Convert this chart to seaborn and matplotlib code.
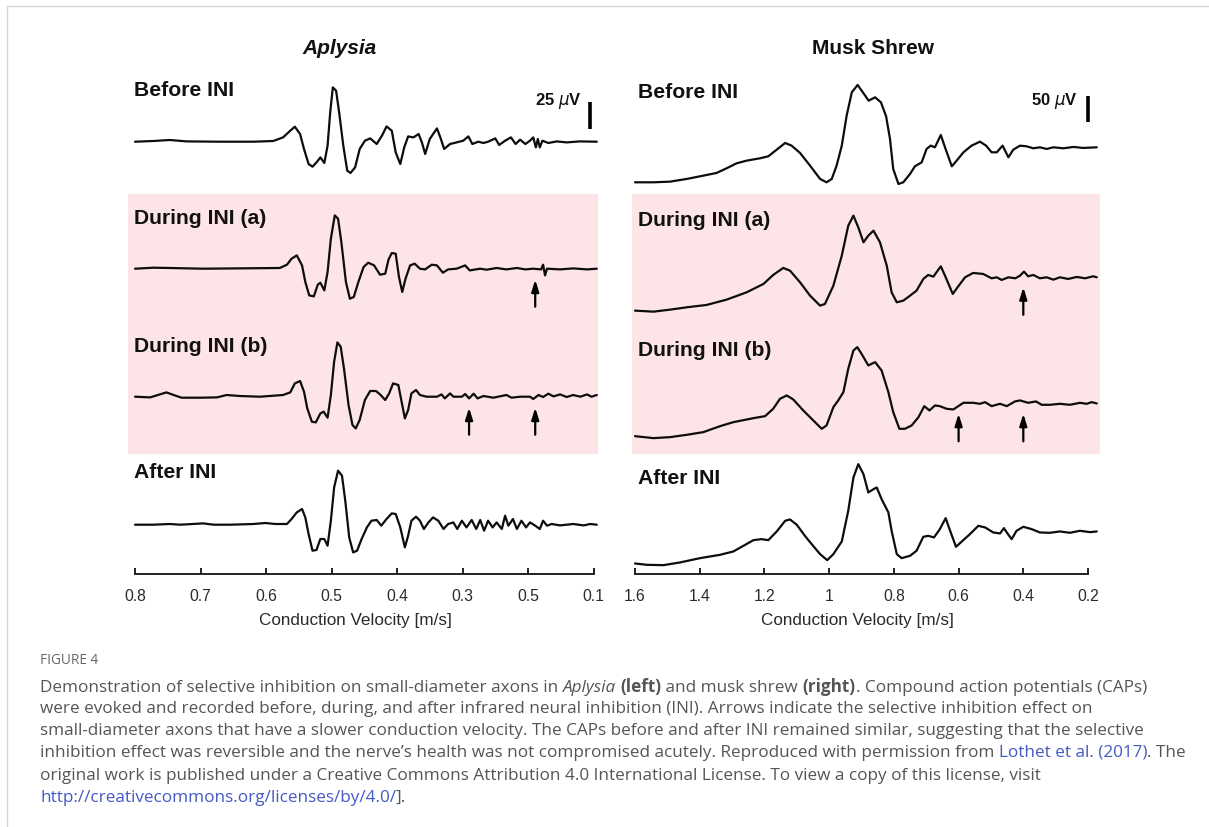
import matplotlib
matplotlib.use("Agg")
import matplotlib.pyplot as plt
from matplotlib.lines import Line2D
from matplotlib.offsetbox import TextArea, HPacker, AnnotationBbox
import seaborn as sns
import pandas as pd

# ---- data (x: conduction velocity m/s, y: microvolts) ----
aplysia_ticks = [0.8, 0.7, 0.6, 0.5, 0.4, 0.3, 0.2, 0.1]
aplysia_ticklabels = ['0.8', '0.7', '0.6', '0.5', '0.4', '0.3', '0.5', '0.1']
shrew_ticks = [1.6, 1.4, 1.2, 1.0, 0.8, 0.6, 0.4, 0.2]
shrew_ticklabels = ['1.6', '1.4', '1.2', '1', '0.8', '0.6', '0.4', '0.2']
trace_names = ['Before INI', 'During INI (a)', 'During INI (b)', 'After INI']

aplysia_before_v = [0.800, 0.772, 0.747, 0.721, 0.670, 0.619, 0.589, 0.574, 0.563, 0.556, 0.548, 0.542,
                    0.535, 0.529, 0.522, 0.517, 0.511, 0.506, 0.502, 0.498, 0.493, 0.488, 0.482, 0.476,
                    0.471, 0.464, 0.457, 0.449, 0.441, 0.431, 0.423, 0.416, 0.408, 0.402, 0.395, 0.389,
                    0.383, 0.375, 0.367, 0.362, 0.357, 0.350, 0.339, 0.333, 0.328, 0.319, 0.309, 0.299,
                    0.291, 0.285, 0.276, 0.268, 0.261, 0.250, 0.244, 0.235, 0.226, 0.219, 0.212, 0.204,
                    0.197, 0.192, 0.188, 0.185, 0.182, 0.178, 0.169, 0.156, 0.141, 0.121, 0.095]
aplysia_before_uv = [0, 0.7, 1.7, 0.3, 0, 0, 0.7, 4.3, 11, 15, 7.7, -7.3,
                     -22.3, -25, -20, -15.7, -21.3, -4, 29.3, 54.3, 51, 27.7, -4, -29,
                     -31.3, -25.7, -7.3, 1, 3.3, -2.3, 6, 15.3, 11, -10.7, -22.3, -5.7,
                     5.3, 4.3, 7.7, -0.7, -12.3, 2.7, 13.3, 2.7, -7.3, -2.3, -0.7, 1,
                     5.3, -2.3, 0, -1.3, 0, 3.3, -3.3, 1, 4.3, -2.3, 2, -2.3,
                     1, 4.3, -5.7, 2.7, -5.7, 1, -1.3, 0.3, -0.7, 0.3, 0]

aplysia_during_a_v = [0.800, 0.772, 0.747, 0.696, 0.645, 0.579, 0.568, 0.561, 0.553, 0.545, 0.540, 0.534,
                      0.527, 0.521, 0.517, 0.511, 0.506, 0.501, 0.495, 0.490, 0.485, 0.478, 0.472, 0.466,
                      0.459, 0.451, 0.444, 0.435, 0.426, 0.418, 0.413, 0.408, 0.402, 0.397, 0.392, 0.387,
                      0.380, 0.373, 0.365, 0.357, 0.347, 0.339, 0.330, 0.322, 0.309, 0.296, 0.289, 0.273,
                      0.263, 0.248, 0.233, 0.217, 0.204, 0.192, 0.180, 0.177, 0.174, 0.171, 0.151, 0.131,
                      0.110, 0.095]
aplysia_during_a_uv = [0, 1, 0.7, 0, 0.3, 0.7, 4, 10, 13.3, 3.3, -13.3, -26.7,
                       -27.7, -16, -14, -21.7, -3.3, 30, 53.3, 50, 26.7, -13.3, -30, -28.3,
                       -13.3, 1.7, 6, 3.3, -6, -5, 9, 15.7, 15, -8.3, -23.3, -10,
                       3.3, 5, 0, -0.7, 4, 3.3, -4, -0.7, 0, 3.3, -1.7, 0,
                       -1, 0.7, -0.7, 0.7, -0.7, 0, -0.7, 4, -6.7, 0, -0.7, 0.3,
                       -0.7, 0]

aplysia_during_b_v = [0.800, 0.777, 0.762, 0.752, 0.741, 0.729, 0.701, 0.675, 0.660, 0.640, 0.609, 0.574,
                      0.563, 0.556, 0.548, 0.542, 0.537, 0.530, 0.524, 0.517, 0.512, 0.506, 0.501, 0.496,
                      0.491, 0.486, 0.481, 0.474, 0.468, 0.463, 0.457, 0.449, 0.441, 0.432, 0.425, 0.418,
                      0.412, 0.406, 0.398, 0.393, 0.388, 0.383, 0.378, 0.371, 0.365, 0.355, 0.339, 0.332,
                      0.327, 0.319, 0.314, 0.301, 0.296, 0.290, 0.283, 0.277, 0.268, 0.253, 0.233, 0.225,
                      0.212, 0.197, 0.192, 0.184, 0.177, 0.169, 0.161, 0.151, 0.141, 0.131, 0.120, 0.110,
                      0.103, 0.095]
aplysia_during_b_uv = [0, -0.7, 2.3, 4.3, 1.7, -1, -1, -0.7, 1.7, 0.7, 0, 1.7,
                       4.3, 13.3, 15.7, 5, -11.7, -25, -25.7, -16.7, -15, -21, 1.7, 35,
                       54.3, 50, 28.3, -8.3, -28.3, -31.7, -23.3, -3.3, 5.7, 5.7, 1.7, -3.3,
                       3.3, 13.3, 11.7, -5, -21.7, -13.3, 3.3, 6.7, 1.7, 0, 0, 2.3,
                       -1.7, 3.3, 0, 0, 2.7, -1.7, 3, -1.7, 0.7, -1, 1.7, -1,
                       0, 0, -2.3, 1.7, -0.3, 3, 0.3, 2.3, -0.3, 1.7, 0, 2.3,
                       0, 1.7]

aplysia_after_v = [0.800, 0.772, 0.747, 0.731, 0.696, 0.680, 0.655, 0.619, 0.601, 0.586, 0.568, 0.561,
                   0.553, 0.545, 0.540, 0.535, 0.529, 0.523, 0.517, 0.511, 0.506, 0.501, 0.496, 0.490,
                   0.484, 0.479, 0.473, 0.467, 0.461, 0.454, 0.446, 0.439, 0.431, 0.424, 0.416, 0.408,
                   0.402, 0.395, 0.388, 0.383, 0.378, 0.371, 0.365, 0.359, 0.352, 0.345, 0.337, 0.329,
                   0.322, 0.314, 0.308, 0.301, 0.294, 0.286, 0.279, 0.273, 0.267, 0.261, 0.254, 0.248,
                   0.240, 0.235, 0.230, 0.223, 0.217, 0.210, 0.203, 0.197, 0.189, 0.182, 0.177, 0.171,
                   0.164, 0.151, 0.131, 0.115, 0.105, 0.095]
aplysia_after_uv = [0, 0, 0.7, 0, 1.3, 0, 0, 0.7, 1.7, 0.7, 0.7, 5.7,
                    12.3, 15.7, 7.3, -9.3, -26, -25.3, -14.3, -14.3, -21, 4, 37.3, 54,
                    49, 24, -12.7, -27.7, -26, -14.3, -2.7, 4, 4.7, -1, 5.7, 11.3,
                    10.7, -2.7, -22.7, -11, 4, 8, 4, -4.3, 2.3, 7.3, 4, -4.3,
                    0.7, 2.3, -4.3, 4, -2.7, 4.7, -4.3, 4.7, -6, 4, -2.7, 2.3,
                    -4.3, 9, -1, 5.7, -4.3, 4, -2.7, 2.3, -1, -4.3, 4, -1,
                    0.7, -0.7, 0.7, -0.7, 0.7, 0]

shrew_before_v = [1.600, 1.543, 1.492, 1.440, 1.389, 1.348, 1.317, 1.286, 1.255, 1.214, 1.188, 1.162,
                  1.136, 1.116, 1.090, 1.059, 1.028, 1.008, 0.992, 0.977, 0.961, 0.946, 0.930, 0.912,
                  0.896, 0.878, 0.858, 0.840, 0.824, 0.812, 0.802, 0.786, 0.771, 0.750, 0.735, 0.714,
                  0.699, 0.686, 0.673, 0.655, 0.642, 0.621, 0.606, 0.585, 0.560, 0.534, 0.515, 0.498,
                  0.482, 0.464, 0.446, 0.431, 0.410, 0.390, 0.369, 0.349, 0.328, 0.307, 0.276, 0.245,
                  0.215, 0.173]
shrew_before_uv = [-70, -70, -68.7, -63.3, -56.7, -51.3, -42, -32, -26.7, -22, -18, -4.7,
                   8.7, 3.3, -11.3, -36.7, -63.3, -70, -63.3, -36.7, 3.3, 63.3, 110, 124.7,
                   110, 93.3, 100, 90, 62, 16.7, -43.3, -73.3, -70, -53.3, -38, -30,
                   -3.3, 3.3, 0, 24.7, 0, -38, -26.7, -10, 3.3, 11.3, 3.3, -10,
                   -10, 3.3, -20, -4.7, 3.3, 2, -2, 0, -3.3, 0, -2, 0.7,
                   -1.3, 0]

shrew_during_a_v = [1.600, 1.543, 1.492, 1.440, 1.379, 1.317, 1.255, 1.203, 1.173, 1.142, 1.121, 1.090,
                    1.059, 1.028, 1.013, 0.987, 0.961, 0.941, 0.925, 0.910, 0.894, 0.879, 0.863, 0.843,
                    0.822, 0.807, 0.791, 0.771, 0.750, 0.730, 0.709, 0.694, 0.678, 0.655, 0.642, 0.618,
                    0.601, 0.580, 0.555, 0.524, 0.498, 0.482, 0.467, 0.446, 0.425, 0.410, 0.398, 0.385,
                    0.369, 0.349, 0.328, 0.307, 0.287, 0.261, 0.235, 0.209, 0.184, 0.173]
shrew_during_a_uv = [-66.7, -68.7, -64.7, -60, -55.3, -44.7, -30, -13.3, 4.7, 18.7, 13.3, -10,
                     -36.7, -56.7, -53.3, -16.7, 43.3, 103.3, 123.3, 100, 70, 83.3, 93.3, 70,
                     23.3, -30, -50, -46.7, -36.7, -26.7, -3.3, 4.7, 1.3, 22, 3.3, -33.3,
                     -18, 0, 8.7, 6.7, -2, 0, -5.3, 0, -2, 3.3, 11.3, 2,
                     4.7, -2, 0, -4.7, 0, -3.3, 0.7, -2, 2, 0]

shrew_during_b_v = [1.600, 1.543, 1.492, 1.440, 1.389, 1.337, 1.296, 1.234, 1.198, 1.173, 1.152, 1.131,
                    1.111, 1.080, 1.049, 1.023, 1.008, 0.987, 0.972, 0.956, 0.941, 0.925, 0.913, 0.900,
                    0.879, 0.858, 0.838, 0.817, 0.802, 0.783, 0.766, 0.745, 0.724, 0.706, 0.690, 0.673,
                    0.658, 0.637, 0.616, 0.601, 0.585, 0.555, 0.534, 0.518, 0.498, 0.472, 0.451, 0.426,
                    0.410, 0.385, 0.361, 0.343, 0.318, 0.287, 0.256, 0.225, 0.204, 0.189, 0.173]
shrew_during_b_uv = [-64.7, -68.7, -66.7, -62, -56.7, -44.7, -36.7, -28.7, -24.7, -10, 10, 16.7,
                     8.7, -13.3, -33.3, -50, -43.3, -6.7, 6.7, 23.3, 70, 106.7, 113.3, 100,
                     76.7, 83.3, 66.7, 23.3, -16.7, -50, -50, -43.3, -26.7, -4.7, -13.3, -3.3,
                     -4.7, -10, -11.3, -4.7, 2, 2, 0, 3.3, -4.7, 0, -4.7, 4.7,
                     6.7, 2, 4.7, -2, -2, 0, -2, 2, 0, 3.3, 0.7]

shrew_after_v = [1.600, 1.564, 1.512, 1.461, 1.399, 1.337, 1.296, 1.265, 1.234, 1.209, 1.188, 1.162,
                 1.136, 1.121, 1.100, 1.075, 1.054, 1.028, 1.006, 0.987, 0.961, 0.941, 0.925, 0.910,
                 0.894, 0.879, 0.863, 0.853, 0.838, 0.817, 0.807, 0.791, 0.776, 0.750, 0.730, 0.709,
                 0.694, 0.676, 0.658, 0.640, 0.628, 0.608, 0.590, 0.565, 0.539, 0.518, 0.493, 0.472,
                 0.460, 0.449, 0.436, 0.421, 0.400, 0.374, 0.349, 0.318, 0.287, 0.256, 0.225, 0.194,
                 0.173]
shrew_after_uv = [-63.3, -66, -66.7, -61.3, -52.7, -46, -39.3, -28, -16.7, -14.7, -16.7, 0.7,
                  22, 24.7, 14, -8, -24.7, -44.7, -56.7, -44.7, -19.3, 42, 108.7, 135.3,
                  115.3, 78.7, 85.3, 88.7, 65.3, 38.7, 2, -44.7, -52.7, -48, -38, -10,
                  -8, -11.3, 5.3, 27.3, 5.3, -30, -19.3, -4.7, 12, 8.7, -1.3, -3.3,
                  7.3, -3.3, -14.7, 2, 10, 5.3, -1.3, -2, 0.7, -2, 2, -0.7,
                  0.7]

# arrows marking the inhibited slow fibres: (trace index, velocity)
aplysia_arrows = [(1, 0.189), (2, 0.290), (2, 0.189)]
shrew_arrows = [(1, 0.4), (2, 0.6), (2, 0.4)]

# ---- layout (pixel based helpers) ----
W, H = 1209, 828
def fx(x):
    return x / W
def fy(y):
    return 1 - y / H

sns.set_style('white')
plt.rcParams['font.family'] = ['Liberation Sans', 'DejaVu Sans']
plt.rcParams['mathtext.fontset'] = 'dejavusans'

fig = plt.figure(figsize=(W / 100, H / 100), dpi=100)
fig.patch.set_facecolor('white')

ax_l = fig.add_axes([fx(128), fy(575), 472 / W, 535 / H])
ax_r = fig.add_axes([fx(632), fy(575), 468 / W, 535 / H])

PINK = '#fde4e6'


def stack(vs, uvs, offsets):
    rows = []
    for k, (v, u) in enumerate(zip(vs, uvs)):
        for a, b in zip(v, u):
            rows.append({'v': a, 'uv': b + offsets[k], 'trace': trace_names[k]})
    return pd.DataFrame(rows)


def draw_panel(ax, df, xlim, ylim, pink, ticks, ticklabels, bounds, arrows, offsets, tip, tail, bar):
    ax.axhspan(pink[0], pink[1], xmin=0, xmax=pink[2], color=PINK, lw=0, zorder=0)
    sns.lineplot(data=df, x='v', y='uv', units='trace', estimator=None, sort=False,
                 color='#0d0d0d', lw=1.6, ax=ax, legend=False, zorder=3,
                 solid_joinstyle='round', solid_capstyle='round')
    ax.set_xlim(*xlim)
    ax.set_ylim(*ylim)
    for s in ['top', 'right', 'left']:
        ax.spines[s].set_visible(False)
    ax.spines['bottom'].set_bounds(*bounds)
    ax.spines['bottom'].set_linewidth(1.3)
    ax.spines['bottom'].set_color('#111111')
    ax.set_yticks([])
    ax.set_xticks(ticks)
    ax.set_xticklabels(ticklabels)
    ax.tick_params(axis='x', direction='in', length=4, width=1.3, color='#111111',
                   labelsize=11.3, labelcolor='#2a2a2a', pad=10, bottom=True)
    ax.set_xlabel('Conduction Velocity [m/s]', fontsize=12.3, color='#2a2a2a')
    ax.xaxis.set_label_coords(0.481, -0.071)
    ax.set_ylabel('')
    ax.set_facecolor('none')
    for k, v in arrows:
        ax.annotate('', xy=(v, offsets[k] + tip), xytext=(v, offsets[k] + tail),
                    arrowprops=dict(arrowstyle='-|>,head_length=0.7,head_width=0.22',
                                    color='black', lw=1.6, shrinkA=0, shrinkB=0), zorder=4)
    ax.plot([bar[0], bar[0]], [bar[1], bar[2]], color='black', lw=2.6, solid_capstyle='butt')


df_l = stack([aplysia_before_v, aplysia_during_a_v, aplysia_during_b_v, aplysia_after_v],
             [aplysia_before_uv, aplysia_during_a_uv, aplysia_during_b_uv, aplysia_after_uv],
             [0, -127, -255, -383])
df_r = stack([shrew_before_v, shrew_during_a_v, shrew_during_b_v, shrew_after_v],
             [shrew_before_uv, shrew_during_a_uv, shrew_during_b_uv, shrew_after_uv],
             [0, -260, -513, -769])

draw_panel(ax_l, df_l, (0.8107, 0.0901), (-432.3, 102.7), (-312.3, -52.3, 0.996),
           aplysia_ticks, aplysia_ticklabels, (0.8, 0.1), aplysia_arrows,
           [0, -127, -255, -383], -11, -38, (0.105, 13, 40))
draw_panel(ax_r, df_r, (1.6093, 0.1630), (-853.4, 216.6), (-613.4, -93.4, 1.0),
           shrew_ticks, shrew_ticklabels, (1.6, 0.2), shrew_arrows,
           [0, -260, -513, -769], -20, -75, (0.2, 51, 103))

# panel titles and trace labels
fig.text(fx(340), fy(48), 'Aplysia', fontsize=15, fontweight='bold', style='italic',
         ha='center', va='center', color='#111111')
fig.text(fx(873), fy(48), 'Musk Shrew', fontsize=15, fontweight='bold',
         ha='center', va='center', color='#111111')
for name, yl, yr in zip(trace_names, [91, 218, 346, 473], [92, 220, 351, 479]):
    fig.text(fx(134), fy(yl), name, fontsize=15.2, fontweight='bold', ha='left', va='center',
             color='#111111', zorder=5)
    fig.text(fx(638), fy(yr), name, fontsize=15.2, fontweight='bold', ha='left', va='center',
             color='#111111', zorder=5)
fig.text(fx(582), fy(101), r'25 $\mu$V', fontsize=12, fontweight='bold', ha='right', va='center',
         color='#111111')
fig.text(fx(1078), fy(101), r'50 $\mu$V', fontsize=12, fontweight='bold', ha='right', va='center',
         color='#111111')

# frame lines of the page
fig.add_artist(Line2D([fx(7), 1], [fy(7), fy(7)], color='#d4d4d4', lw=1))
fig.add_artist(Line2D([fx(7), fx(7)], [fy(7), 0], color='#d4d4d4', lw=1))

# caption
GREY = '#555555'
BLUE = '#4559c4'
CAP = dict(fontsize=12.35, family='Open Sans', color=GREY)
fig.text(fx(40), fy(661), 'FIGURE 4', fontsize=9.8, family='Open Sans', color='#666666',
         ha='left', va='center')


def seg(text, **kw):
    p = dict(CAP)
    p.update(kw)
    return TextArea(text, textprops=p)


caption_lines = [
    [seg('Demonstration of selective inhibition on small-diameter axons in '),
     seg('Aplysia', style='italic'), seg(' '), seg('(left)', fontweight='bold'),
     seg(' and musk shrew '), seg('(right)', fontweight='bold'),
     seg('. Compound action potentials (CAPs)')],
    [seg('were evoked and recorded before, during, and after infrared neural inhibition (INI). '
         'Arrows indicate the selective inhibition effect on')],
    [seg('small-diameter axons that have a slower conduction velocity. The CAPs before and after '
         'INI remained similar, suggesting that the selective')],
    [seg('inhibition effect was reversible and the nerve\u2019s health was not compromised acutely. '
         'Reproduced with permission from '), seg('Lothet et al. (2017)', color=BLUE), seg('. The')],
    [seg('original work is published under a Creative Commons Attribution 4.0 International License. '
         'To view a copy of this license, visit')],
    [seg('http://creativecommons.org/licenses/by/4.0/', color=BLUE), seg('].')],
]
for line, y in zip(caption_lines, [687, 709, 731, 753, 776, 798]):
    box = HPacker(children=line, pad=0, sep=0, align='baseline')
    ab = AnnotationBbox(box, (fx(40), fy(y)), xycoords='figure fraction',
                        box_alignment=(0, 0.5), frameon=False, pad=0)
    fig.add_artist(ab)

fig.savefig('out.png', dpi=100, facecolor='white')
